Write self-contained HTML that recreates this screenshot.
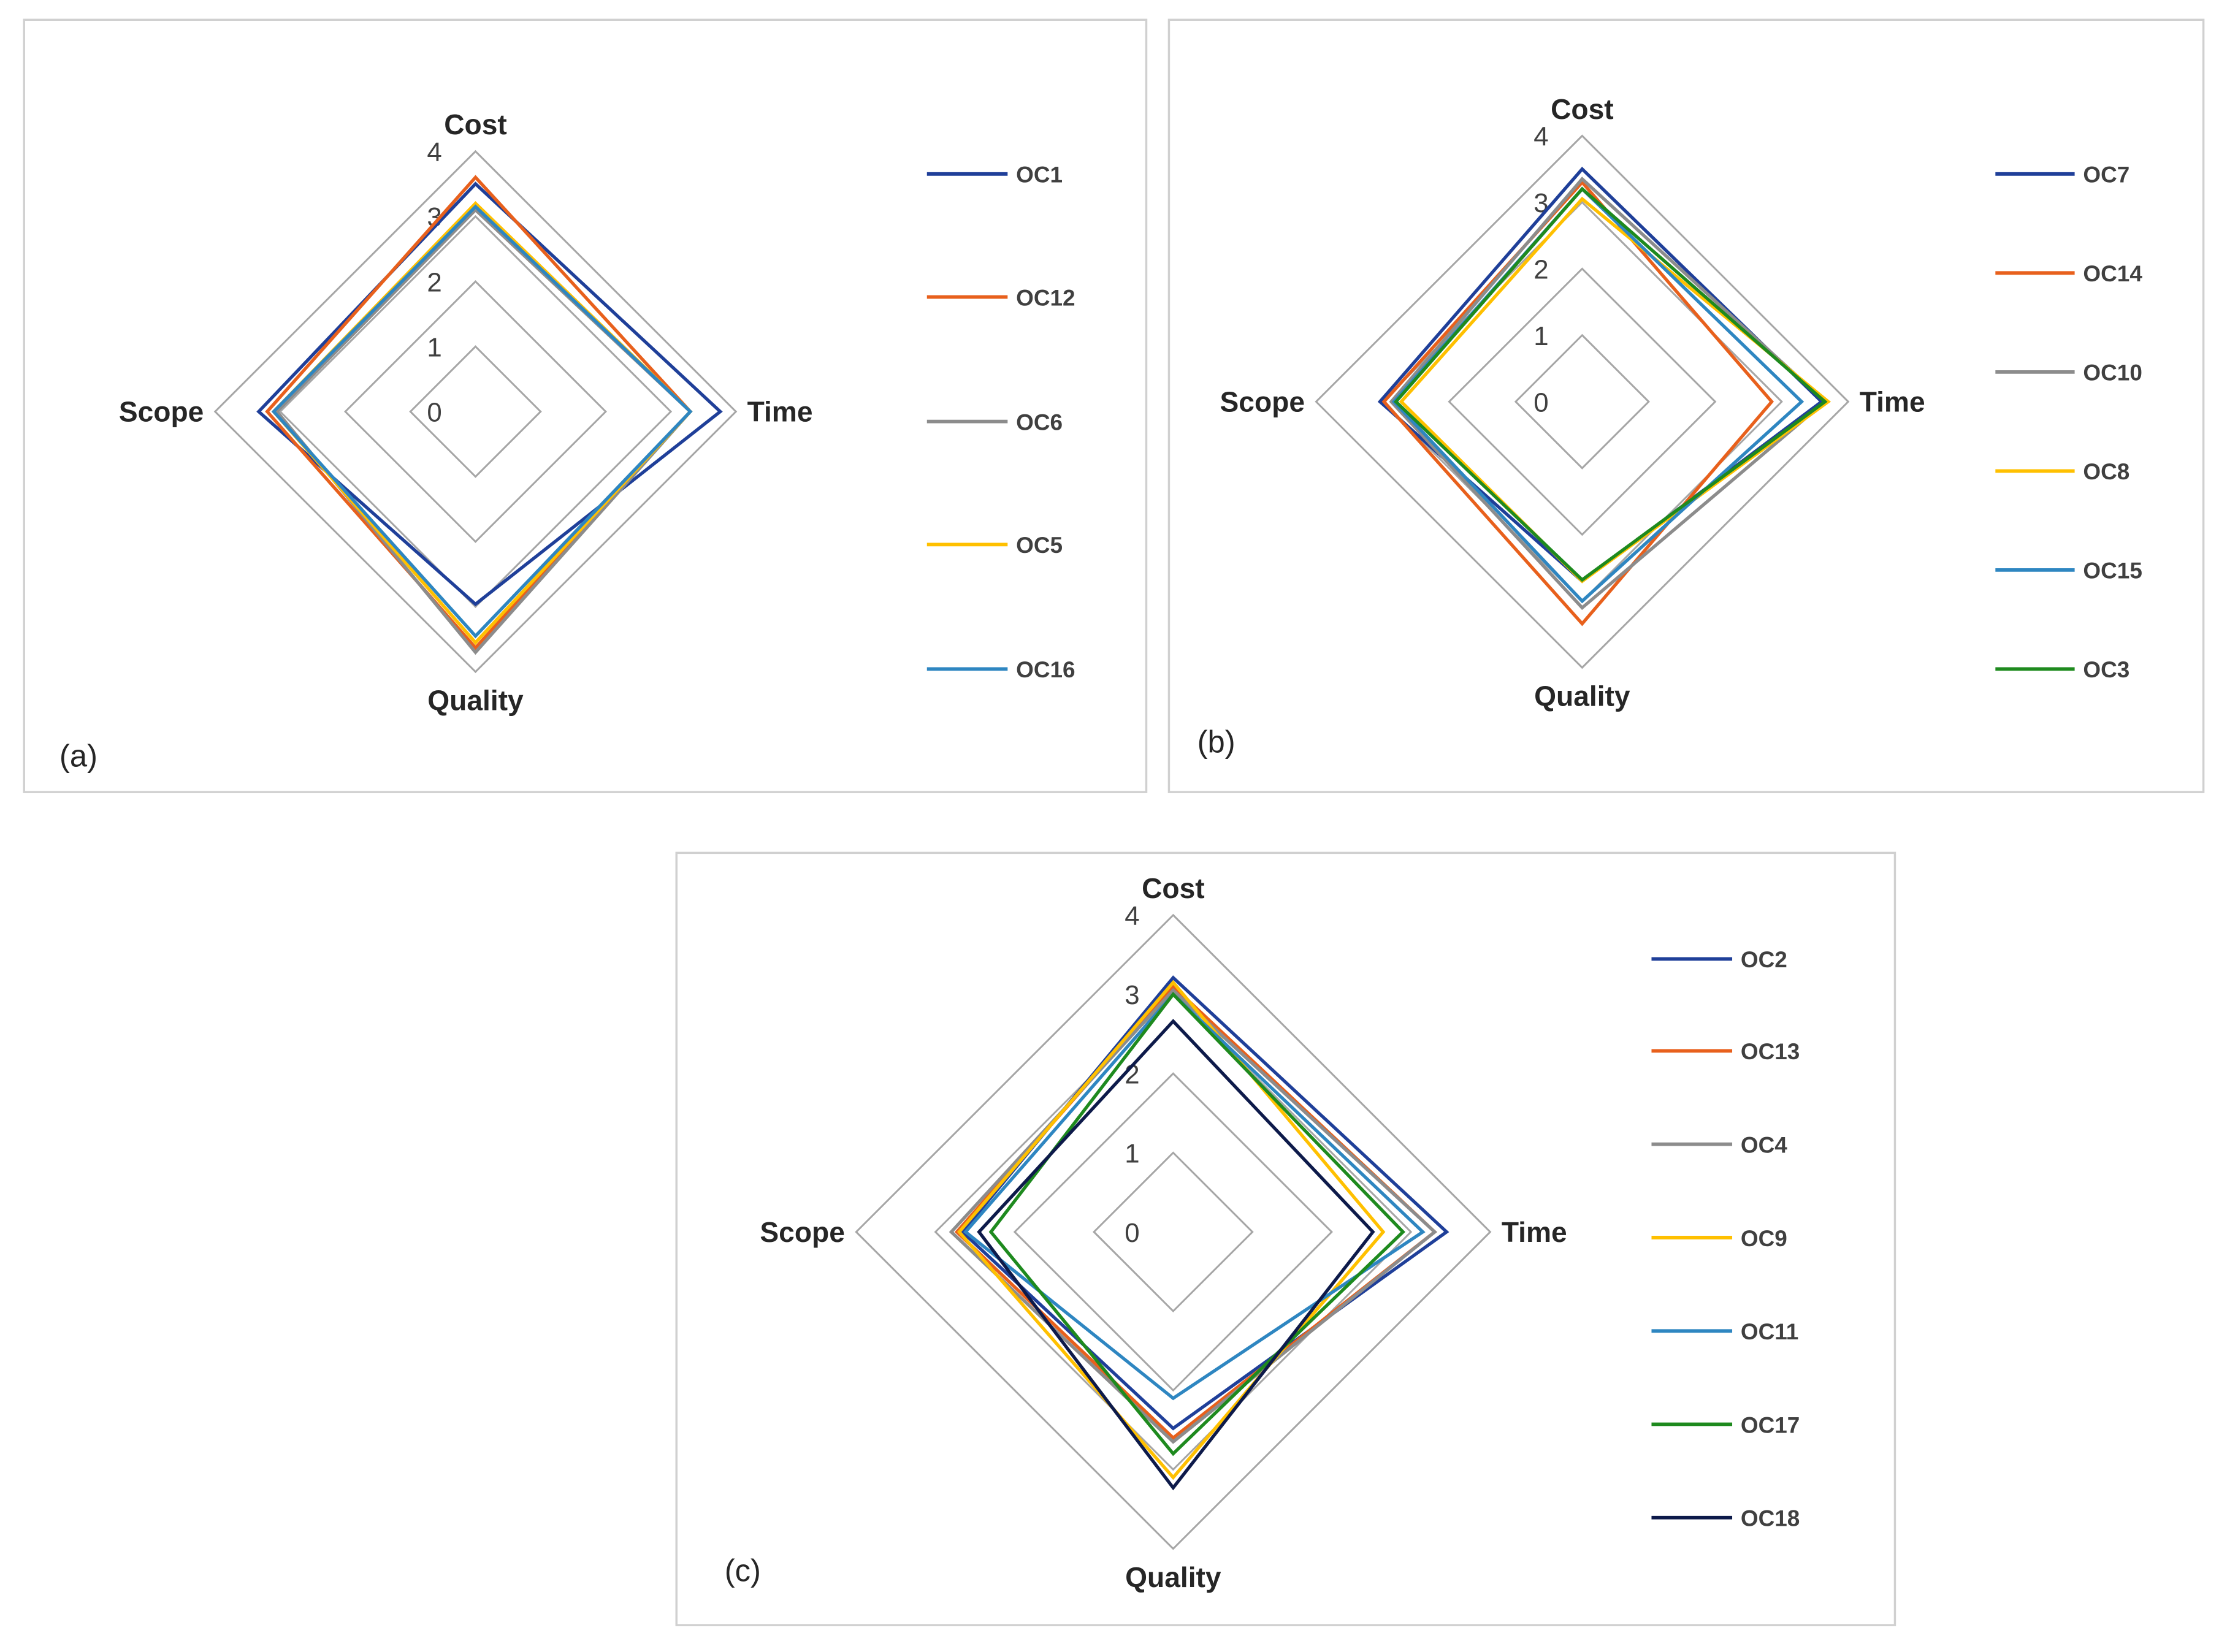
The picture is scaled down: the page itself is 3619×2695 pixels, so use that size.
<!DOCTYPE html>
<html><head><meta charset="utf-8"><style>
html,body{margin:0;padding:0;background:#fff;}
svg{display:block;}
text{font-family:"Liberation Sans",Arial,sans-serif;}
</style></head><body>
<svg id="fig" width="3619" height="2695" viewBox="0 0 1568 1168" preserveAspectRatio="none" xmlns="http://www.w3.org/2000/svg"></svg>
<script>
const axes = ["Cost","Time","Quality","Scope"];
const ticks = ["0","1","2","3","4"];
const seriesA = ["OC1","OC12","OC6","OC5","OC16"];
const colorsA = ["#1f3f99","#e8601c","#8c8c8c","#ffc000","#2e86c1"];
const valuesA = [[3.5,3.76,2.96,3.33],[3.6,3.3,3.63,3.2],[3.1,3.3,3.7,3.05],[3.2,3.3,3.55,3.1],[3.15,3.3,3.45,3.1]];
const seriesB = ["OC7","OC14","OC10","OC8","OC15","OC3"];
const colorsB = ["#1f3f99","#e8601c","#8c8c8c","#ffc000","#2e86c1","#1e8a1e"];
const valuesB = [[3.5,3.6,2.7,3.04],[3.3,2.85,3.34,2.98],[3.35,3.65,3.1,2.87],[3.05,3.7,2.7,2.72],[3.2,3.3,3.0,2.83],[3.2,3.65,2.68,2.8]];
const seriesC = ["OC2","OC13","OC4","OC9","OC11","OC17","OC18"];
const colorsC = ["#1f3f99","#e8601c","#8c8c8c","#ffc000","#2e86c1","#1e8a1e","#0d1a4a"];
const valuesC = [[3.21,3.45,2.48,2.66],[3.1,3.3,2.6,2.73],[3.05,3.3,2.65,2.8],[3.15,2.65,3.1,2.7],[3.0,3.15,2.1,2.62],[3.0,2.9,2.8,2.3],[2.66,2.52,3.23,2.45]];

const NS="http://www.w3.org/2000/svg";
const svg=document.getElementById('fig');
function mk(tag,attrs,parent){const e=document.createElementNS(NS,tag);for(const k in attrs)e.setAttribute(k,attrs[k]);(parent||svg).appendChild(e);return e;}
const dirs=[[0,-1],[1,0],[0,1],[-1,0]];
function panel(id,box,cx,cy,unit,names,colors,vals,leg,label){
  const g=mk('g',{});
  
  
  const fr=mk('rect',{x:box[0],y:box[1],width:box[2]-box[0],height:box[3]-box[1],fill:'#fff',stroke:'#d0d0d0','stroke-width':1.5},g);
  
  
  const maxV=4;
  function pt(a,v){return [cx+dirs[a][0]*v*unit, cy+dirs[a][1]*v*unit];}
  for(let t=1;t<=maxV;t++){
    const p=[0,1,2,3].map(a=>pt(a,t).join(',')).join(' ');
    const gl=mk('polygon',{points:p,fill:'none',stroke:'#a6a6a6','stroke-width':1.3},g);
    
    
  }
  ticks.forEach((tl,i)=>{
    const tx=mk('text',{x:cx-29,y:cy-i*unit+7,'font-size':19,fill:'#404040','text-anchor':'middle'},g);
    tx.textContent=tl;
    
    
  });
  vals.forEach((v,s)=>{
    const p=v.map((val,a)=>pt(a,val).join(',')).join(' ');
    const pl=mk('polygon',{points:p,fill:'none',stroke:colors[s],'stroke-width':2.3,'stroke-linejoin':'miter'},g);
    
    
  });
  const R=maxV*unit;
  const lp=[[cx,cy-R-12,'middle'],[cx+R+8,cy+7,'start'],[cx,cy+R+27,'middle'],[cx-R-8,cy+7,'end']];
  axes.forEach((ax,a)=>{
    const tx=mk('text',{x:lp[a][0],y:lp[a][1],'font-size':20,'font-weight':'bold',fill:'#262626','text-anchor':lp[a][2]},g);
    tx.textContent=ax;
    
    
  });
  names.forEach((n,s)=>{
    const y=leg[2][s];
    const ln=mk('line',{x1:leg[0],x2:leg[1],y1:y,y2:y,stroke:colors[s],'stroke-width':2.5},g);
    
    
    const tx=mk('text',{x:leg[1]+6,y:y+6,'font-size':16,'font-weight':'bold',fill:'#404040'},g);
    tx.textContent=n;
    
    
  });
  const pl=mk('text',{x:label[0],y:label[1],'font-size':22,fill:'#262626'},g);
  pl.textContent=label[2];
  
  
}
panel('a',[17,14,810,560],336,291,46,seriesA,colorsA,valuesA,[655,712,[123,210,298,385,473]],[42,542,'(a)']);
panel('b',[826,14,1557,560],1118,284,47,seriesB,colorsB,valuesB,[1410,1466,[123,193,263,333,403,473]],[846,532,'(b)']);
panel('c',[478,603,1339,1149],829,871,56,seriesC,colorsC,valuesC,[1167,1224,[678,743,809,875,941,1007,1073]],[512,1118,'(c)']);
</script>
</body></html>
